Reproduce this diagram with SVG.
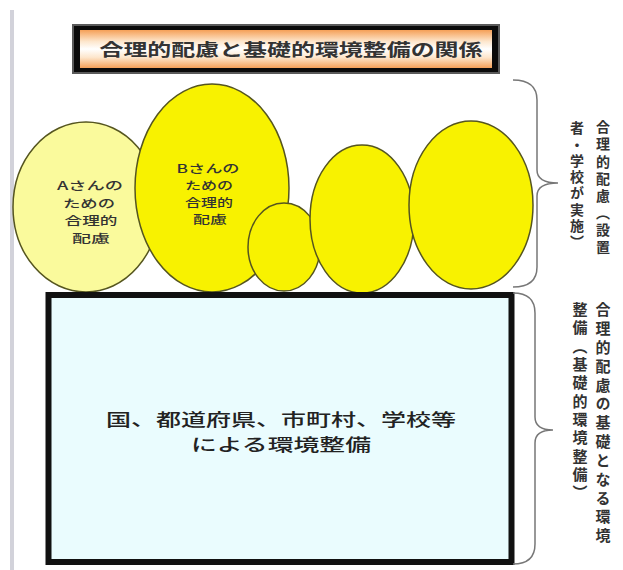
<svg xmlns="http://www.w3.org/2000/svg" width="623" height="570" viewBox="0 0 623 570">
<defs>
<linearGradient id="titleGrad" x1="0" y1="0" x2="0" y2="1">
<stop offset="0" stop-color="#f5a058"/>
<stop offset="0.3" stop-color="#fde6cc"/>
<stop offset="0.5" stop-color="#ffffff"/>
<stop offset="0.72" stop-color="#fde6cc"/>
<stop offset="1" stop-color="#f5a058"/>
</linearGradient>
</defs>
<style>
text{font-family:"Noto Sans CJK JP","Liberation Sans",sans-serif;}
.ell{stroke:#55551f;stroke-width:1.5;}
.pale{fill:#fafa9c;}
.yel{fill:#f8f200;}
.etxt{font-size:11.6px;font-weight:500;fill:#333;text-anchor:middle;}
.vtxt{writing-mode:vertical-rl;font-weight:bold;fill:#333;}
.brace{fill:none;stroke:#777;stroke-width:1.5;}
</style>
<rect x="0" y="0" width="623" height="570" fill="#ffffff"/>
<rect x="10" y="10" width="4" height="560" fill="#d2d2da"/>

<g id="title">
<rect x="72" y="24" width="428" height="50" fill="#5a5a5a"/>
<rect x="74" y="26" width="424" height="46" fill="#0a0a0a"/>
<rect x="80" y="30" width="412" height="38" fill="url(#titleGrad)"/>
<text x="291" y="56" font-size="17" font-weight="bold" fill="#333" text-anchor="middle" textLength="383" lengthAdjust="spacingAndGlyphs">合理的配慮と基礎的環境整備の関係</text>
</g>

<g id="ellipseA">
<ellipse class="ell pale" cx="86" cy="207" rx="73" ry="85"/>
<text class="etxt"><tspan x="90" y="190" textLength="66" lengthAdjust="spacingAndGlyphs">Aさんの</tspan><tspan x="89" y="207.5" textLength="52" lengthAdjust="spacingAndGlyphs">ための</tspan><tspan x="91" y="225" textLength="53" lengthAdjust="spacingAndGlyphs">合理的</tspan><tspan x="91" y="242.5" textLength="38" lengthAdjust="spacingAndGlyphs">配慮</tspan></text>
</g>

<g id="ellipseB">
<ellipse class="ell yel" cx="212" cy="188" rx="77" ry="104"/>
<text class="etxt"><tspan x="208" y="173" textLength="63" lengthAdjust="spacingAndGlyphs">Bさんの</tspan><tspan x="209" y="190" textLength="48" lengthAdjust="spacingAndGlyphs">ための</tspan><tspan x="209" y="207" textLength="48" lengthAdjust="spacingAndGlyphs">合理的</tspan><tspan x="210" y="224" textLength="34" lengthAdjust="spacingAndGlyphs">配慮</tspan></text>
</g>

<g id="ellipseC">
<ellipse class="ell yel" cx="284" cy="247" rx="36" ry="44"/>
</g>

<g id="ellipseD">
<ellipse class="ell yel" cx="362" cy="219" rx="52" ry="74"/>
</g>

<g id="ellipseE">
<ellipse class="ell yel" cx="471" cy="205" rx="62" ry="84"/>
</g>

<g id="environment">
<rect x="48.5" y="295" width="463" height="267" fill="#eafcfe" stroke="#111" stroke-width="6"/>
<text font-size="17" font-weight="500" fill="#222" text-anchor="middle"><tspan x="281" y="426" textLength="350" lengthAdjust="spacingAndGlyphs">国、都道府県、市町村、学校等</tspan><tspan x="281" y="451" textLength="180" lengthAdjust="spacingAndGlyphs">による環境整備</tspan></text>
</g>

<g id="connectors">
<path class="brace" d="M513,80 Q537,80 537,100 L537,170 Q537,183 558,183 Q537,183 537,196 L537,267 Q537,287 513,287"/>
<path class="brace" d="M513,293 Q535,293 535,313 L535,417 Q535,430 553,430 Q535,430 535,443 L535,544 Q535,564 513,564"/>
</g>

<g id="label-top">
<text class="vtxt" x="603" y="120" font-size="14" textLength="134" lengthAdjust="spacing">合理的配慮（設置</text>
<text class="vtxt" x="577" y="121" font-size="14" textLength="128" lengthAdjust="spacing">者・学校が実施）</text>
</g>

<g id="label-bottom">
<text class="vtxt" x="603" y="302" font-size="15" textLength="241" lengthAdjust="spacing">合理的配慮の基礎となる環境</text>
<text class="vtxt" x="580" y="302" font-size="15" textLength="198" lengthAdjust="spacing">整備（基礎的環境整備）</text>
</g>
</svg>
